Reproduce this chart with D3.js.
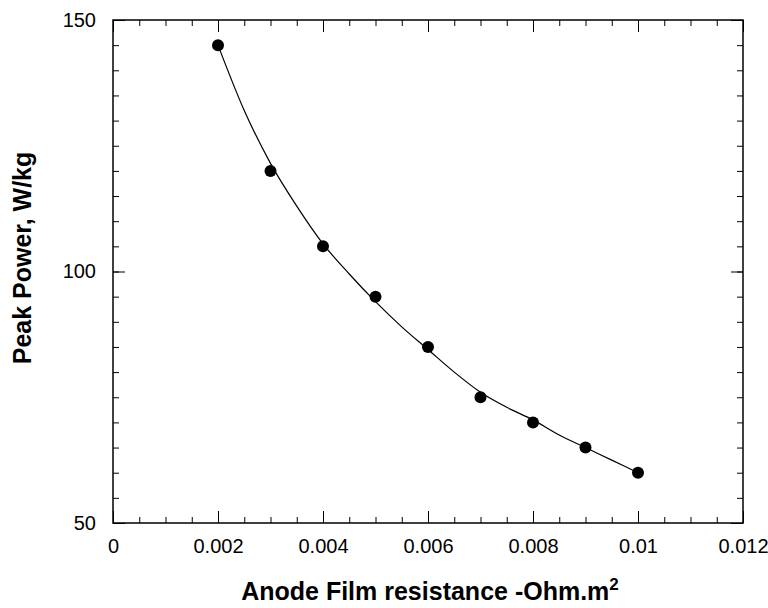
<!DOCTYPE html>
<html>
<head>
<meta charset="utf-8">
<script src="https://cdn.jsdelivr.net/npm/d3@7"></script>
<style>
  body { margin: 0; background: #fff; }
  text { font-family: Arial, "Liberation Sans", sans-serif; }
</style>
</head>
<body>
<script>
// measured points
let resistance = [0.002, 0.003, 0.004, 0.005, 0.006, 0.007, 0.008, 0.009, 0.01];
let peakPower = [145, 120, 105, 95, 85, 75, 70, 65, 60];

// fitted curve
let fitX = [0.002, 0.0025, 0.003, 0.0035, 0.004, 0.0045, 0.005, 0.0055, 0.006, 0.0065, 0.007, 0.0075, 0.008, 0.0085, 0.009, 0.0095, 0.01];
let fitY = [145, 132, 121.5, 113, 105.5, 99.5, 94, 89, 84.5, 80, 76, 73, 70.5, 67.5, 65, 62.5, 60];

let xTicks = [0, 0.002, 0.004, 0.006, 0.008, 0.01, 0.012];
let xTickLabels = ["0", "0.002", "0.004", "0.006", "0.008", "0.01", "0.012"];
let yTicks = [50, 100, 150];

let svgWidth = 768;
let svgHeight = 608;

let margin = { top: 20, right: 25, bottom: 85, left: 113 };
let chartWidth = svgWidth - margin.left - margin.right;
let chartHeight = svgHeight - margin.top - margin.bottom;

let svg = d3.select("body")
    .append("svg")
    .attr("width", svgWidth)
    .attr("height", svgHeight);

let chartGroup = svg.append("g")
    .attr("transform", `translate(${margin.left},${margin.top})`);

let xScale = d3.scaleLinear().domain([0, 0.012]).range([0, chartWidth]);
let yScale = d3.scaleLinear().domain([50, 150]).range([chartHeight, 0]);

let xMinor = d3.range(0, 0.01201, 0.0005);
let yMinor = d3.range(50, 150.01, 5);

// minor ticks, all four sides, pointing in
function minorAxis(axisFn, scale, vals, transform) {
    chartGroup.append("g")
        .attr("transform", transform)
        .call(axisFn(scale).tickValues(vals).tickSize(-6).tickFormat(""))
        .call(g => g.select(".domain").remove());
}
minorAxis(d3.axisBottom, xScale, xMinor, `translate(0,${chartHeight})`);
minorAxis(d3.axisTop, xScale, xMinor, "translate(0,0)");
minorAxis(d3.axisLeft, yScale, yMinor, "translate(0,0)");
minorAxis(d3.axisRight, yScale, yMinor, `translate(${chartWidth},0)`);

// major ticks
chartGroup.append("g")
    .attr("transform", `translate(0,${chartHeight})`)
    .call(d3.axisBottom(xScale).tickValues(xTicks).tickSize(-12).tickPadding(16)
        .tickFormat((d, i) => xTickLabels[i]))
    .call(g => g.select(".domain").remove())
    .selectAll("text")
    .attr("font-size", 20)
    .attr("fill", "#000");

chartGroup.append("g")
    .call(d3.axisTop(xScale).tickValues(xTicks).tickSize(-12).tickFormat(""))
    .call(g => g.select(".domain").remove());

chartGroup.append("g")
    .call(d3.axisLeft(yScale).tickValues(yTicks).tickSize(-12).tickPadding(17))
    .call(g => g.select(".domain").remove())
    .selectAll("text")
    .attr("font-size", 20)
    .attr("fill", "#000");

chartGroup.append("g")
    .attr("transform", `translate(${chartWidth},0)`)
    .call(d3.axisRight(yScale).tickValues(yTicks).tickSize(-12).tickFormat(""))
    .call(g => g.select(".domain").remove());

chartGroup.selectAll(".tick line").attr("stroke", "#000");
chartGroup.selectAll(".tick text").attr("font-family", "Arial, 'Liberation Sans', sans-serif");

// frame
chartGroup.append("rect")
    .attr("width", chartWidth)
    .attr("height", chartHeight)
    .attr("fill", "none")
    .attr("stroke", "#000")
    .attr("stroke-width", 1.5);

// fit line
let fitData = fitX.map((x, i) => ({ x: x, y: fitY[i] }));
chartGroup.append("path")
    .datum(fitData)
    .attr("fill", "none")
    .attr("stroke", "#000")
    .attr("stroke-width", 1.2)
    .attr("d", d3.line().x(d => xScale(d.x)).y(d => yScale(d.y)).curve(d3.curveMonotoneX));

// points
chartGroup.selectAll("circle")
    .data(resistance)
    .enter()
    .append("circle")
    .attr("cx", d => xScale(d))
    .attr("cy", (d, i) => yScale(peakPower[i]))
    .attr("r", 6)
    .attr("fill", "#000");

// axis titles
let xTitle = svg.append("text")
    .attr("x", margin.left + chartWidth / 2 + 2)
    .attr("y", 600)
    .attr("text-anchor", "middle")
    .attr("font-size", 25)
    .attr("font-weight", "bold")
    .text("Anode Film resistance -Ohm.m");
xTitle.append("tspan")
    .attr("font-size", 17)
    .attr("dy", -10)
    .text("2");

svg.append("text")
    .attr("transform", `translate(31,258) rotate(-90)`)
    .attr("text-anchor", "middle")
    .attr("font-size", 25)
    .attr("font-weight", "bold")
    .text("Peak Power, W/kg");
</script>
</body>
</html>
